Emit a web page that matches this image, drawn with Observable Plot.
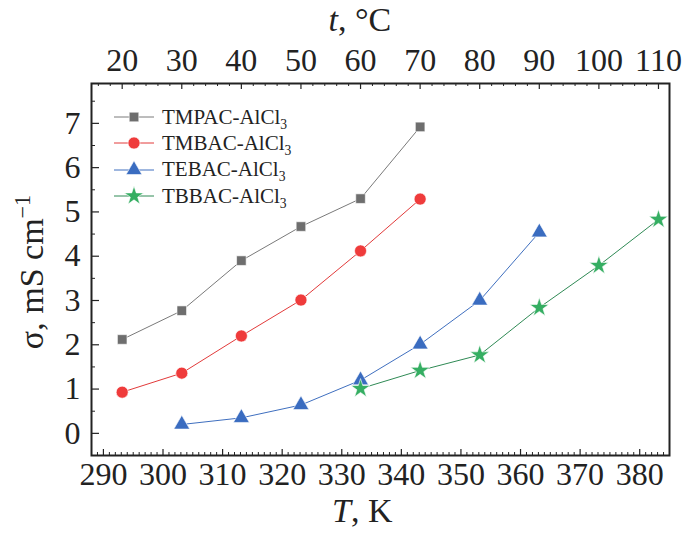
<!DOCTYPE html>
<html>
<head>
<meta charset="utf-8">
<script src="https://cdn.jsdelivr.net/npm/d3@7"></script>
<script src="https://cdn.jsdelivr.net/npm/@observablehq/plot@0.6"></script>
<style>
  body { margin: 0; background: #fff; }
  #wrap { position: relative; width: 685px; height: 535px; font-family: "Liberation Serif", "Times New Roman", serif; color: #222; }
  #wrap svg { position: absolute; left: 0; top: 0; }
  .lbl { position: absolute; font-size: 34px; white-space: nowrap; line-height: 1; }
  #legend { position: absolute; left: 112px; top: 104px; font-size: 21px; }
  #legend .row { display: flex; align-items: center; height: 26.3px; }
  #legend svg { position: static; }
  #legend span { margin-left: 6px; }
  sub { font-size: 65%; vertical-align: -0.35em; line-height: 0; }
  sup { font-size: 65%; vertical-align: 0.6em; line-height: 0; }
</style>
</head>
<body>
<div id="wrap"></div>
<script>
// ---- data ----
const temperaturesK = [293.15, 303.15, 313.15, 323.15, 333.15, 343.15, 353.15, 363.15, 373.15, 383.15];
const seriesNames = ["TMPAC", "TMBAC", "TEBAC", "TBBAC"];
const tmpac = [2.12, 2.77, 3.90, 4.67, 5.30, 6.92];                 // 293..343 K
const tmbac = [0.93, 1.36, 2.20, 3.01, 4.12, 5.29];                 // 293..343 K
const tebac = [0.20, 0.35, 0.64, 1.20, 2.01, 3.00, 4.54];           // 303..363 K
const tbbac = [1.01, 1.42, 1.77, 2.84, 3.79, 4.83];                 // 333..383 K
const xTicksK = [290, 300, 310, 320, 330, 340, 350, 360, 370, 380];
const xTicksC = [20, 30, 40, 50, 60, 70, 80, 90, 100, 110];
const yTicks = [0, 1, 2, 3, 4, 5, 6, 7];

// ---- style ----
const styles = {
  TMPAC: {line: "#7a7a7a", fill: "#6e6e6e", symbol: "square", r: 5.4, start: 0},
  TMBAC: {line: "#e23a3a", fill: "#ef3b3b", symbol: "circle", r: 6.0, start: 0},
  TEBAC: {line: "#3f6fbf", fill: "#3a6cc0", symbol: "triangle", r: 5.9, start: 1},
  TBBAC: {line: "#2f8a55", fill: "#35ae62", symbol: "star", r: 6.0, start: 4}
};
const valuesBySeries = {TMPAC: tmpac, TMBAC: tmbac, TEBAC: tebac, TBBAC: tbbac};
const data = [];
for (const name of seriesNames) {
  valuesBySeries[name].forEach((v, i) => data.push({series: name, T: temperaturesK[styles[name].start + i], s: v}));
}

const W = 685, H = 535, mL = 91, mR = 16, mT = 83, mB = 80;
const fw = W - mL - mR, fh = H - mT - mB;
const xDomain = [288, 385], yDomain = [-0.5, 7.9];
const minorK = d3.range(288, 386, 1).filter(v => v % 10 !== 0);
const minorC = d3.range(16, 112, 2).filter(v => v % 10 !== 0).filter(v => v + 273.15 <= 385);
const minorY = d3.range(-0.5, 7.9, 1);

const marks = [];
// ticks (inward)
marks.push(Plot.ruleX(xTicksK, {x: d => d, insetTop: fh - 6, stroke: "#222", strokeWidth: 1.2}));
marks.push(Plot.ruleX(minorK, {x: d => d, insetTop: fh - 3, stroke: "#222", strokeWidth: 1}));
marks.push(Plot.ruleX(xTicksC, {x: d => d + 273.15, insetBottom: fh - 6, stroke: "#222", strokeWidth: 1.2}));
marks.push(Plot.ruleX(minorC, {x: d => d + 273.15, insetBottom: fh - 3, stroke: "#222", strokeWidth: 1}));
marks.push(Plot.ruleY(yTicks, {y: d => d, insetRight: fw - 8, stroke: "#222", strokeWidth: 1.2}));
marks.push(Plot.ruleY(minorY, {y: d => d, insetRight: fw - 4, stroke: "#222", strokeWidth: 1}));
// series
for (const name of seriesNames) {
  const st = styles[name];
  const sub = data.filter(d => d.series === name);
  marks.push(Plot.line(sub, {x: "T", y: "s", stroke: st.line, strokeWidth: 1}));
  marks.push(Plot.dot(sub, {x: "T", y: "s", symbol: () => st.symbol, fill: st.fill, r: st.r, stroke: "white", strokeWidth: 0.6}));
}
// top axis labels (°C)
marks.push(Plot.text(xTicksC, {x: d => d + 273.15, text: d => String(d), frameAnchor: "top", lineAnchor: "middle", dy: -23, fontSize: 32, fill: "#222"}));
marks.push(Plot.frame({stroke: "#222", strokeWidth: 2}));

const chart = Plot.plot({
  width: W, height: H,
  marginLeft: mL, marginRight: mR, marginTop: mT, marginBottom: mB,
  style: {fontFamily: "'Liberation Serif', 'Times New Roman', serif", color: "#222", background: "white"},
  x: {domain: xDomain, ticks: xTicksK, tickSize: 0, tickPadding: 12, label: null},
  y: {domain: yDomain, ticks: yTicks, tickSize: 0, tickPadding: 11, label: null},
  symbol: {type: "identity"},
  marks: [
    Plot.axisX(xTicksK, {anchor: "bottom", tickSize: 0, tickPadding: 7, fontSize: 32, label: null}),
    Plot.axisY(yTicks, {anchor: "left", tickSize: 0, tickPadding: 11, fontSize: 32, label: null}),
    ...marks
  ]
});

const wrap = document.getElementById("wrap");
wrap.appendChild(chart);

// axis titles
function addLabel(html) {
  const d = document.createElement("div");
  d.className = "lbl";
  d.innerHTML = html;
  wrap.appendChild(d);
  return d;
}
const xl = addLabel("<i>T</i>, K");
xl.style.left = (mL + fw / 2 - xl.offsetWidth / 2 - 18) + "px";
xl.style.top = "494px";
const tl = addLabel("<i>t</i>, °C");
tl.style.left = (mL + fw / 2 - tl.offsetWidth / 2 - 20) + "px";
tl.style.top = "3px";
const yl = addLabel("σ, mS cm<sup>−1</sup>");
yl.style.left = (32 - yl.offsetWidth / 2) + "px";
yl.style.top = (272 - yl.offsetHeight / 2) + "px";
yl.style.transform = "rotate(-90deg)";

// legend
const legend = document.createElement("div");
legend.id = "legend";
const symbolPaths = {square: d3.symbolSquare, circle: d3.symbolCircle, triangle: d3.symbolTriangle, star: d3.symbolStar};
for (const name of seriesNames) {
  const st = styles[name];
  const row = document.createElement("div");
  row.className = "row";
  const p = d3.symbol(symbolPaths[st.symbol], Math.PI * st.r * st.r)();
  row.innerHTML = `<svg width="44" height="20" viewBox="-22 -10 44 20"><line x1="-20" x2="20" y1="0" y2="0" stroke="${st.line}" stroke-width="1"/><path d="${p}" fill="${st.fill}" stroke="white" stroke-width="0.6"/></svg><span>${name}-AlCl<sub>3</sub></span>`;
  legend.appendChild(row);
}
wrap.appendChild(legend);
</script>
</body>
</html>
